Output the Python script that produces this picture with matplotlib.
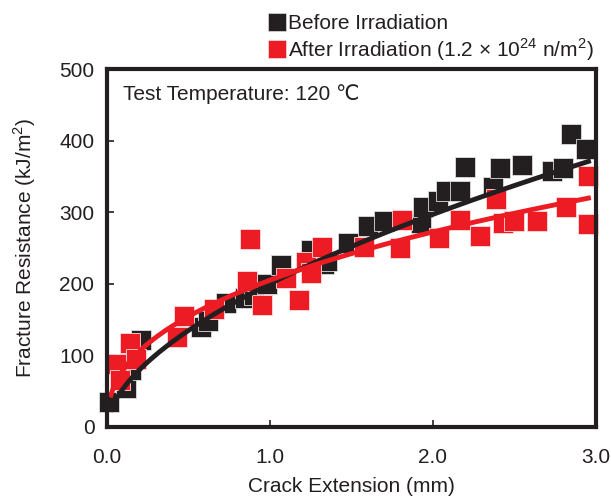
import numpy as np
import matplotlib
matplotlib.use("Agg")
import matplotlib.pyplot as plt
from matplotlib.lines import Line2D

plt.rcParams['font.family'] = ['Liberation Sans', 'DejaVu Sans']
plt.rcParams['mathtext.fontset'] = 'custom'
plt.rcParams['mathtext.rm'] = 'Liberation Sans'

# Data (crack extension mm, fracture resistance kJ/m^2)
before_x = [0.01, 0.12, 0.15, 0.21, 0.58, 0.62, 0.73, 0.85, 0.90, 0.98, 1.07, 1.25,
            1.33, 1.35, 1.48, 1.60, 1.70, 1.93, 1.94, 2.03, 2.08, 2.17, 2.20, 2.37,
            2.41, 2.55, 2.73, 2.80, 2.85, 2.94]
before_y = [35, 55, 80, 121, 140, 148, 173, 180, 185, 200, 226, 247,
            228, 232, 257, 281, 288, 285, 307, 316, 330, 330, 363, 335,
            362, 366, 358, 362, 409, 388]

after_x = [0.06, 0.08, 0.14, 0.18, 0.43, 0.47, 0.66, 0.86, 0.88, 0.95, 1.10, 1.18,
           1.22, 1.25, 1.32, 1.58, 1.80, 1.81, 2.04, 2.17, 2.29, 2.39, 2.43, 2.50,
           2.64, 2.82, 2.95, 2.95]
after_y = [88, 65, 118, 95, 125, 155, 165, 204, 262, 170, 208, 177,
           230, 215, 251, 251, 250, 289, 264, 289, 267, 318, 285, 288,
           288, 307, 350, 284]

# Power-law fit parameters y = a * x^b
before_fit = (200.0, 0.57)
after_fit = (205.0, 0.41)
fit_range = (0.02, 2.97)

x_ticks = [0.0, 1.0, 2.0, 3.0]
x_tick_labels = ['0.0', '1.0', '2.0', '3.0']
y_ticks = [0, 100, 200, 300, 400, 500]

BLACK = '#231f20'
RED = '#ed1c24'
FS = 15

fig = plt.figure(figsize=(6.11, 4.99), dpi=100)
ax = fig.add_axes([0.175, 0.1443, 0.800, 0.7174])

ms = 15
ax.plot(before_x, before_y, 's', color=BLACK, ms=ms, mec='#dddddd', mew=0.6, zorder=2, clip_on=False)
ax.plot(after_x, after_y, 's', color=RED, ms=ms, mec='#ffdddd', mew=0.6, zorder=3, clip_on=False)

xf = np.linspace(fit_range[0], fit_range[1], 200)
ax.plot(xf, before_fit[0] * xf ** before_fit[1], color=BLACK, lw=3.5, zorder=4, solid_capstyle='butt')
ax.plot(xf, after_fit[0] * xf ** after_fit[1], color=RED, lw=3.5, zorder=5, solid_capstyle='butt')

ax.set_xlim(0, 3.0)
ax.set_ylim(0, 500)
ax.set_xticks(x_ticks)
ax.set_xticklabels(x_tick_labels)
ax.set_yticks(y_ticks)
for s in ax.spines.values():
    s.set_linewidth(3)
    s.set_color(BLACK)
    s.set_zorder(10)
ax.tick_params(direction='in', length=5, width=1.2, color=BLACK, labelsize=FS,
               labelcolor=BLACK)
ax.tick_params(axis='x', pad=15)
ax.tick_params(axis='y', pad=9)

ax.set_xlabel('Crack Extension (mm)', fontsize=FS, color=BLACK, labelpad=7)
ax.set_ylabel('Fracture Resistance (kJ/m$^2$)', fontsize=FS, color=BLACK, labelpad=15)

ax.text(0.033, 0.93, 'Test Temperature: 120 \u2103', transform=ax.transAxes,
        fontsize=FS, color=BLACK, va='center', ha='left')

handles = [Line2D([], [], ls='none', marker='s', color=BLACK, ms=13, mec='#dddddd', mew=0.5),
           Line2D([], [], ls='none', marker='s', color=RED, ms=13, mec='#ffdddd', mew=0.5)]
labels = ['Before Irradiation', 'After Irradiation (1.2 \u00d7 10$^{24}$ n/m$^2$)']
fig.legend(handles, labels, loc='upper left', bbox_to_anchor=(268 / 611, 0.972),
           frameon=False, fontsize=FS, handlelength=0.9, handletextpad=0.08,
           labelspacing=0.15, borderaxespad=0, borderpad=0, labelcolor=BLACK)

fig.savefig('out.png', dpi=100)
